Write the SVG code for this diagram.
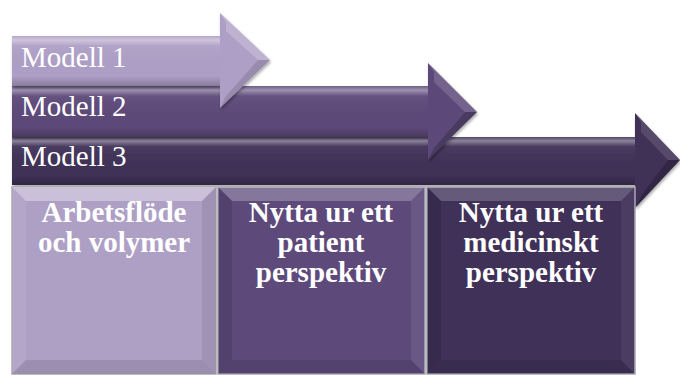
<svg xmlns="http://www.w3.org/2000/svg" width="680" height="375" viewBox="0 0 680 375">
  <defs>
    <style>
      .lbl { font-family: "Liberation Serif", "Times New Roman", serif; font-size: 29px; fill: #ffffff; }
      .hdr { font-family: "Liberation Serif", "Times New Roman", serif; font-size: 29px; font-weight: bold; fill: #ffffff; text-anchor: middle; }
      .box { stroke: #a8a4ae; stroke-width: 1.5; }
      .hi { fill: #ffffff; }
      .lo { fill: #000000; }
    </style>
    <linearGradient id="bodyShade" x1="0" y1="0" x2="0" y2="1">
      <stop offset="0" stop-color="#ffffff" stop-opacity="0.10"/>
      <stop offset="0.08" stop-color="#ffffff" stop-opacity="0.40"/>
      <stop offset="0.2" stop-color="#ffffff" stop-opacity="0.05"/>
      <stop offset="0.8" stop-color="#000000" stop-opacity="0"/>
      <stop offset="1" stop-color="#000000" stop-opacity="0.22"/>
    </linearGradient>
    <filter id="shadow" x="-5%" y="-5%" width="110%" height="120%">
      <feGaussianBlur in="SourceAlpha" stdDeviation="1.5"/>
      <feOffset dx="1" dy="2" result="b"/>
      <feComponentTransfer><feFuncA type="linear" slope="0.35"/></feComponentTransfer>
      <feMerge><feMergeNode/><feMergeNode in="SourceGraphic"/></feMerge>
    </filter>
  </defs>

  <!-- process arrows, back to front -->
  <g id="connectors">
    <g id="arrow-modell-3" filter="url(#shadow)">
      <path d="M12,137 H635 V113 L680,160 L635,208 V185 H12 Z" fill="#3f3157"/>
      <rect x="12" y="137" width="623" height="48" fill="url(#bodyShade)"/>
      <polygon class="hi" points="635,113 680,160 668,160 641,132 641,122" opacity="0.12"/>
      <polygon class="lo" points="680,160 635,208 641,196 668,160" opacity="0.2"/>
    </g>
    <g id="arrow-modell-2" filter="url(#shadow)">
      <path d="M12,86 H428 V63 L477,112 L428,160 V137 H12 Z" fill="#5d4979"/>
      <rect x="12" y="86" width="416" height="51" fill="url(#bodyShade)"/>
      <polygon class="hi" points="428,63 477,112 465,112 434,82 434,72" opacity="0.15"/>
      <polygon class="lo" points="477,112 428,160 434,148 465,112" opacity="0.2"/>
    </g>
    <g id="arrow-modell-1" filter="url(#shadow)">
      <path d="M12,36 H220 V13 L270,60 L220,108 V86 H12 Z" fill="#ae9fc6"/>
      <rect x="12" y="36" width="208" height="50" fill="url(#bodyShade)"/>
      <polygon class="hi" points="220,13 270,60 258,60 226,31 226,22" opacity="0.2"/>
      <polygon class="lo" points="270,60 220,108 226,96 258,60" opacity="0.12"/>
    </g>
    <text class="lbl" x="21" y="67">Modell 1</text>
    <text class="lbl" x="21" y="116">Modell 2</text>
    <text class="lbl" x="21" y="166">Modell 3</text>
  </g>

  <!-- column boxes with bevelled edges -->
  <g id="box-arbetsflode">
    <rect class="box" x="12" y="187" width="204" height="187" fill="#ae9fc5"/>
    <polygon class="hi" points="12,187 216,187 202,201 26,201" opacity="0.35"/>
    <polygon class="hi" points="12,187 26,201 26,360 12,374" opacity="0.08"/>
    <polygon class="lo" points="216,187 216,374 202,360 202,201" opacity="0.08"/>
    <polygon class="lo" points="12,374 216,374 202,360 26,360" opacity="0.1"/>
    <text class="hdr" x="114" y="222">Arbetsflöde</text>
    <text class="hdr" x="114" y="252">och volymer</text>
  </g>
  <g id="box-patient">
    <rect class="box" x="218" y="187" width="207" height="187" fill="#5d4a7b"/>
    <polygon class="hi" points="218,187 425,187 411,201 232,201" opacity="0.25"/>
    <polygon class="lo" points="218,187 232,201 232,360 218,374" opacity="0.12"/>
    <polygon class="hi" points="425,187 425,374 411,360 411,201" opacity="0.08"/>
    <polygon class="lo" points="218,374 425,374 411,360 232,360" opacity="0.1"/>
    <text class="hdr" x="321" y="222">Nytta ur ett</text>
    <text class="hdr" x="321" y="252">patient</text>
    <text class="hdr" x="321" y="282">perspektiv</text>
  </g>
  <g id="box-medicinskt">
    <rect class="box" x="427" y="187" width="208" height="187" fill="#3f3158"/>
    <polygon class="hi" points="427,187 635,187 621,201 441,201" opacity="0.2"/>
    <polygon class="lo" points="427,187 441,201 441,360 427,374" opacity="0.12"/>
    <polygon class="hi" points="635,187 635,374 621,360 621,201" opacity="0.06"/>
    <polygon class="lo" points="427,374 635,374 621,360 441,360" opacity="0.1"/>
    <text class="hdr" x="531" y="222">Nytta ur ett</text>
    <text class="hdr" x="531" y="252">medicinskt</text>
    <text class="hdr" x="531" y="282">perspektiv</text>
  </g>
</svg>
